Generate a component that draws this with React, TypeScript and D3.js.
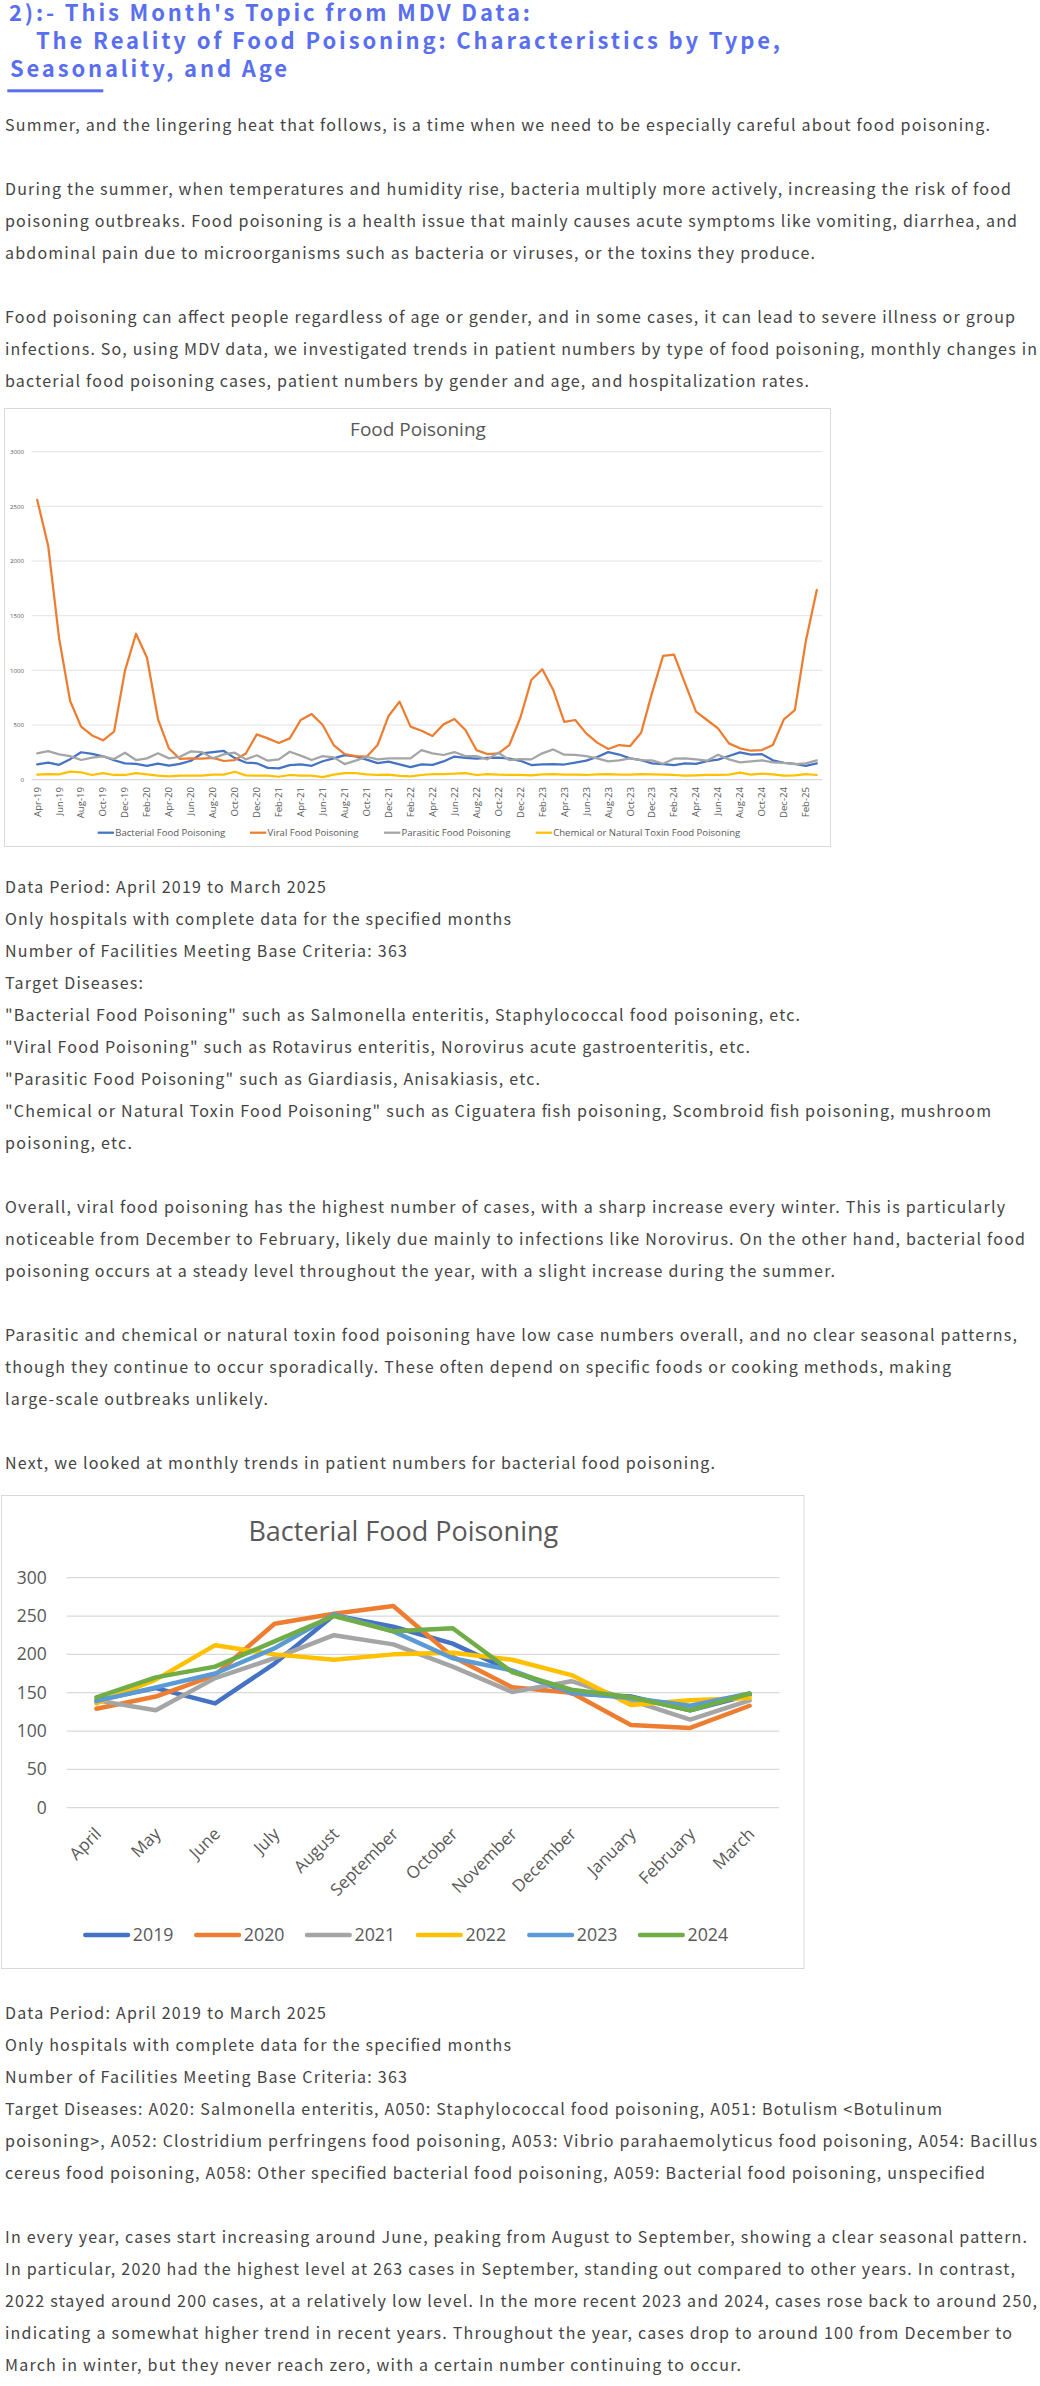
import React from "react";
import * as d3 from "d3";

// ---------- Chart 1 data ----------
const months1 = [
  "Apr-19","May-19","Jun-19","Jul-19","Aug-19","Sep-19","Oct-19","Nov-19","Dec-19",
  "Jan-20","Feb-20","Mar-20","Apr-20","May-20","Jun-20","Jul-20","Aug-20","Sep-20","Oct-20","Nov-20","Dec-20",
  "Jan-21","Feb-21","Mar-21","Apr-21","May-21","Jun-21","Jul-21","Aug-21","Sep-21","Oct-21","Nov-21","Dec-21",
  "Jan-22","Feb-22","Mar-22","Apr-22","May-22","Jun-22","Jul-22","Aug-22","Sep-22","Oct-22","Nov-22","Dec-22",
  "Jan-23","Feb-23","Mar-23","Apr-23","May-23","Jun-23","Jul-23","Aug-23","Sep-23","Oct-23","Nov-23","Dec-23",
  "Jan-24","Feb-24","Mar-24","Apr-24","May-24","Jun-24","Jul-24","Aug-24","Sep-24","Oct-24","Nov-24","Dec-24",
  "Jan-25","Feb-25","Mar-25",
];

// ---------- Chart 2 data (bacterial, fiscal years Apr–Mar) ----------
const monthNames = ["April","May","June","July","August","September","October","November","December","January","February","March"];
const years = ["2019","2020","2021","2022","2023","2024"];
const y2019 = [140,156,136,188,251,236,214,178,149,145,127,147];
const y2020 = [129,145,173,240,253,263,197,157,150,108,104,133];
const y2021 = [140,127,169,195,225,213,184,151,165,140,115,140];
const y2022 = [136,167,212,200,193,200,202,193,173,134,140,143];
const y2023 = [139,157,175,208,252,230,195,179,150,143,133,149];
const y2024 = [144,170,184,217,250,230,234,177,154,144,127,149];
const bacterialYears = [y2019, y2020, y2021, y2022, y2023, y2024];

const bacterial = [...y2019, ...y2020, ...y2021, ...y2022, ...y2023, ...y2024];
const viral = [
  2560,2140,1290,720,485,405,360,440,1000,1335,1115,555,
  285,190,195,192,200,171,180,240,415,378,335,378,
  546,600,500,317,235,216,210,317,583,714,485,448,
  400,506,555,454,271,235,241,317,567,912,1010,820,
  528,546,424,339,281,317,308,430,796,1132,1144,881,
  622,546,470,332,287,265,271,317,552,637,1269,1735,
];
const parasitic = [
  241,262,232,216,180,201,213,189,247,180,195,241,
  195,210,259,253,195,232,247,186,223,174,186,256,
  220,180,216,204,143,174,210,186,195,195,195,271,
  241,226,253,216,216,186,247,180,189,186,241,277,
  229,226,216,195,168,177,195,180,177,146,192,195,
  186,174,229,186,159,168,177,159,155,143,149,177,
];
const chemical = [
  46,52,49,73,67,43,61,43,43,61,49,37,
  30,37,37,37,46,46,73,40,37,37,27,43,
  37,37,24,46,61,61,49,43,46,34,30,43,
  52,52,55,61,43,52,46,43,43,40,49,52,
  46,46,43,49,52,46,46,52,49,46,43,37,
  40,43,43,46,64,46,55,49,37,40,52,43,
];
const series1Names = [
  "Bacterial Food Poisoning",
  "Viral Food Poisoning",
  "Parasitic Food Poisoning",
  "Chemical or Natural Toxin Food Poisoning",
];
const series1 = [bacterial, viral, parasitic, chemical];
const yTicks1 = [0, 500, 1000, 1500, 2000, 2500, 3000];
const yTicks2 = [0, 50, 100, 150, 200, 250, 300];

// ---------- Text ----------
const titleLines = [
  "2):- This Month's Topic from MDV Data:",
  "The Reality of Food Poisoning: Characteristics by Type,",
  "Seasonality, and Age",
];
const blockA = [
  [["Summer, and the lingering heat that follows, is a time when we need to be especially careful about food poisoning.", 990]],
  [
    ["During the summer, when temperatures and humidity rise, bacteria multiply more actively, increasing the risk of food", 1011],
    ["poisoning outbreaks. Food poisoning is a health issue that mainly causes acute symptoms like vomiting, diarrhea, and", 1017],
    ["abdominal pain due to microorganisms such as bacteria or viruses, or the toxins they produce.", 815],
  ],
  [
    ["Food poisoning can affect people regardless of age or gender, and in some cases, it can lead to severe illness or group", 1015],
    ["infections. So, using MDV data, we investigated trends in patient numbers by type of food poisoning, monthly changes in", 1037],
    ["bacterial food poisoning cases, patient numbers by gender and age, and hospitalization rates.", 809],
  ],
];
const blockB = [
  [
    ["Data Period: April 2019 to March 2025", 326],
    ["Only hospitals with complete data for the specified months", 511],
    ["Number of Facilities Meeting Base Criteria: 363", 407],
    ["Target Diseases:", 143],
    ["\"Bacterial Food Poisoning\" such as Salmonella enteritis, Staphylococcal food poisoning, etc.", 800],
    ["\"Viral Food Poisoning\" such as Rotavirus enteritis, Norovirus acute gastroenteritis, etc.", 750],
    ["\"Parasitic Food Poisoning\" such as Giardiasis, Anisakiasis, etc.", 540],
    ["\"Chemical or Natural Toxin Food Poisoning\" such as Ciguatera fish poisoning, Scombroid fish poisoning, mushroom", 991],
    ["poisoning, etc.", 132],
  ],
  [
    ["Overall, viral food poisoning has the highest number of cases, with a sharp increase every winter. This is particularly", 1005],
    ["noticeable from December to February, likely due mainly to infections like Norovirus. On the other hand, bacterial food", 1025],
    ["poisoning occurs at a steady level throughout the year, with a slight increase during the summer.", 835],
  ],
  [
    ["Parasitic and chemical or natural toxin food poisoning have low case numbers overall, and no clear seasonal patterns,", 1017],
    ["though they continue to occur sporadically. These often depend on specific foods or cooking methods, making", 951],
    ["large-scale outbreaks unlikely.", 268],
  ],
  [["Next, we looked at monthly trends in patient numbers for bacterial food poisoning.", 715]],
];
const blockC = [
  [
    ["Data Period: April 2019 to March 2025", 326],
    ["Only hospitals with complete data for the specified months", 511],
    ["Number of Facilities Meeting Base Criteria: 363", 407],
    ["Target Diseases: A020: Salmonella enteritis, A050: Staphylococcal food poisoning, A051: Botulism <Botulinum", 942],
    ["poisoning>, A052: Clostridium perfringens food poisoning, A053: Vibrio parahaemolyticus food poisoning, A054: Bacillus", 1037],
    ["cereus food poisoning, A058: Other specified bacterial food poisoning, A059: Bacterial food poisoning, unspecified", 985],
  ],
  [
    ["In every year, cases start increasing around June, peaking from August to September, showing a clear seasonal pattern.", 1027],
    ["In particular, 2020 had the highest level at 263 cases in September, standing out compared to other years. In contrast,", 1015],
    ["2022 stayed around 200 cases, at a relatively low level. In the more recent 2023 and 2024, cases rose back to around 250,", 1037],
    ["indicating a somewhat higher trend in recent years. Throughout the year, cases drop to around 100 from December to", 1012],
    ["March in winter, but they never reach zero, with a certain number continuing to occur.", 741],
  ],
];

const colors1 = ["#4472C4", "#ED7D31", "#A5A5A5", "#FFC000"];
const colors2 = ["#4472C4", "#ED7D31", "#A5A5A5", "#FFC000", "#5B9BD5", "#70AD47"];

const BODY_FONT = "'Noto Sans CJK JP', 'Noto Sans', sans-serif";
const CHART_FONT = "'Open Sans', 'Noto Sans', sans-serif";
const LINE_H = 32;
const TEXT_X = 5;

function TextBlock({ paras, startY }: { paras: any[]; startY: number }) {
  const out: any[] = [];
  let y = startY;
  paras.forEach((p: any[], pi: number) => {
    p.forEach(([t, end]: [string, number], li: number) => {
      out.push(
        <text key={`${pi}-${li}`} x={TEXT_X} y={y} textLength={end - TEXT_X} lengthAdjust="spacing">
          {t}
        </text>
      );
      y += LINE_H;
    });
    y += LINE_H;
  });
  return (
    <g fontFamily={BODY_FONT} fontSize={16} fill="#444">
      {out}
    </g>
  );
}

export default function App() {
  // Chart 1 scales
  const x1 = d3.scaleBand<string>().domain(months1).range([31.7, 822.3]);
  const cx1 = (i: number) => (x1(months1[i]) as number) + x1.bandwidth() / 2;
  const y1 = d3.scaleLinear().domain([0, 3000]).range([779.7, 451.7]);
  const line1 = d3.line<number>().x((_, i) => cx1(i)).y((d) => y1(d));

  // Chart 2 scales
  const x2 = d3.scaleBand<string>().domain(monthNames).range([66.7, 779.3]);
  const cx2 = (i: number) => (x2(monthNames[i]) as number) + x2.bandwidth() / 2;
  const y2 = d3.scaleLinear().domain([0, 300]).range([1807.7, 1577.7]);
  const line2 = d3.line<number>().x((_, i) => cx2(i)).y((d) => y2(d));

  const legend1X = [97.7, 250, 384, 535.7];
  const legend2X = [83.3, 194.3, 305, 416, 527.3, 638];

  return (
    <svg
      width={1040}
      height={2386}
      viewBox="0 0 1040 2386"
      style={{ position: "absolute", left: 0, top: 0, display: "block", background: "#fff" }}
    >
      <rect x={0} y={0} width={1040} height={2386} fill="#fff" />
      {/* Title */}
      <g fontFamily={BODY_FONT} fontWeight={700} fontSize={22} fill="#5a6ff0">
        <text x={9} y={21} textLength={521} lengthAdjust="spacing">{titleLines[0]}</text>
        <text x={36} y={48.7} textLength={744} lengthAdjust="spacing">{titleLines[1]}</text>
        <text x={10} y={76.5} textLength={277} lengthAdjust="spacing">{titleLines[2]}</text>
      </g>
      <rect x={7.3} y={89.3} width={96} height={3} fill="#5a6ff0" />

      <TextBlock paras={blockA} startY={131} />

      {/* Chart 1 */}
      <g>
        <rect x={4.5} y={408.5} width={826} height={438} fill="#fff" stroke="#d9d9d9" strokeWidth={1} />
        <text x={418} y={436} textAnchor="middle" fontFamily={CHART_FONT} fontSize={19} fill="#595959">
          Food Poisoning
        </text>
        {yTicks1.map((t) => (
          <g key={t}>
            <line x1={31.7} x2={822.3} y1={y1(t)} y2={y1(t)} stroke={t === 0 ? "#d0d0d0" : "#e3e3e3"} strokeWidth={1} />
            <text x={24} y={y1(t)} dy="0.35em" textAnchor="end" fontFamily={CHART_FONT} fontSize={6.1} fill="#595959">
              {t}
            </text>
          </g>
        ))}
        {months1.map((m, i) =>
          i % 2 === 0 ? (
            <text
              key={m}
              transform={`translate(${cx1(i)},${787}) rotate(-90)`}
              dy="0.35em"
              textAnchor="end"
              fontFamily={CHART_FONT}
              fontSize={9.6}
              fill="#595959"
            >
              {m}
            </text>
          ) : null
        )}
        {series1.map((s, k) => (
          <path key={k} d={line1(s) as string} fill="none" stroke={colors1[k]} strokeWidth={2.25} strokeLinejoin="round" strokeLinecap="round" />
        ))}
        {series1Names.map((n, k) => (
          <g key={n}>
            <line x1={legend1X[k]} x2={legend1X[k] + 16.3} y1={832.7} y2={832.7} stroke={colors1[k]} strokeWidth={2.25} />
            <text x={legend1X[k] + 17.5} y={832.7} dy="0.35em" fontFamily={CHART_FONT} fontSize={9.6} fill="#595959">
              {n}
            </text>
          </g>
        ))}
      </g>

      <TextBlock paras={blockB} startY={893} />

      {/* Chart 2 */}
      <g>
        <rect x={1.5} y={1495.5} width={802.5} height={473} fill="#fff" stroke="#d9d9d9" strokeWidth={1} />
        <text x={403.3} y={1541} textAnchor="middle" fontFamily={CHART_FONT} fontSize={27} fill="#595959">
          Bacterial Food Poisoning
        </text>
        {yTicks2.map((t) => (
          <g key={t}>
            <line x1={66.7} x2={779.3} y1={y2(t)} y2={y2(t)} stroke="#d9d9d9" strokeWidth={1.2} />
            <text x={46.7} y={y2(t)} dy="0.35em" textAnchor="end" fontFamily={CHART_FONT} fontSize={17.5} fill="#595959">
              {t}
            </text>
          </g>
        ))}
        {monthNames.map((m, i) => (
          <text
            key={m}
            transform={`translate(${cx2(i) + 6},${1835}) rotate(-45)`}
            textAnchor="end"
            fontFamily={CHART_FONT}
            fontSize={17}
            fill="#595959"
          >
            {m}
          </text>
        ))}
        {bacterialYears.map((s, k) => (
          <path key={k} d={line2(s) as string} fill="none" stroke={colors2[k]} strokeWidth={4.5} strokeLinejoin="round" strokeLinecap="round" />
        ))}
        {years.map((yr, k) => (
          <g key={yr}>
            <line x1={legend2X[k] + 2} x2={legend2X[k] + 44.7} y1={1935} y2={1935} stroke={colors2[k]} strokeWidth={4.5} strokeLinecap="round" />
            <text x={legend2X[k] + 49.5} y={1935} dy="0.35em" fontFamily={CHART_FONT} fontSize={17.8} fill="#595959">
              {yr}
            </text>
          </g>
        ))}
      </g>

      <TextBlock paras={blockC} startY={2019} />
    </svg>
  );
}
